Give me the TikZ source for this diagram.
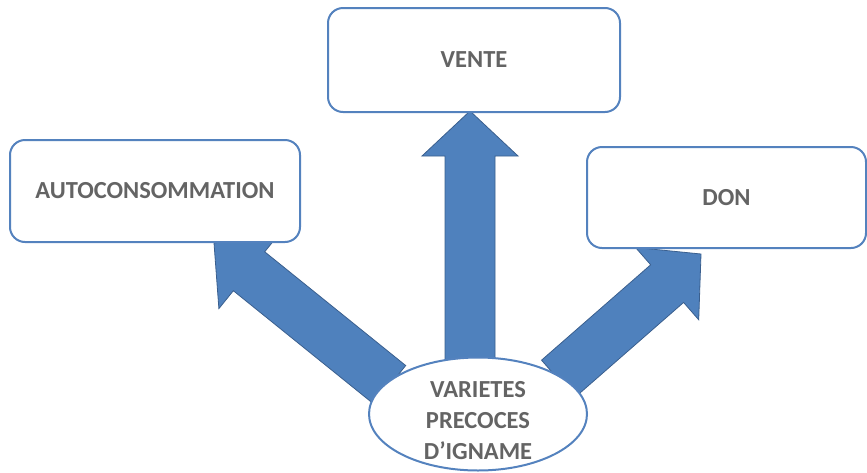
\documentclass[tikz,border=0pt]{standalone}
\usepackage{fontspec}
\setmainfont{Carlito}
\usetikzlibrary{calc,shapes.geometric}
\pgfdeclarelayer{background}
\pgfsetlayers{background,main}
\definecolor{boxline}{RGB}{84,130,190}
\definecolor{arrowfill}{RGB}{79,129,189}
\definecolor{arrowline}{RGB}{58,95,142}
\definecolor{txt}{RGB}{100,100,100}
\tikzset{
  labelfont/.style={font=\fontsize{24.5}{31}\selectfont\bfseries, text=txt},
  outbox/.style={draw=boxline, line width=2pt, fill=white, rounded corners=15pt, inner sep=0pt, labelfont},
  srcell/.style={ellipse, draw=boxline, line width=2pt, fill=white, minimum width=218pt, minimum height=113pt, inner sep=0pt},
  srctext/.style={align=center, inner sep=0pt, labelfont},
  blockarrow/.style={fill=arrowfill, draw=arrowline, line width=0.8pt, line join=miter}
}
\newcommand\blockarr[3]{% #1 tail, #2 tip, #3 head-base name
  \coordinate (#3) at ($(#2)!45pt!(#1)$);
  \draw[blockarrow] ($(#1)!25pt!90:(#2)$) -- ($(#3)!25pt!90:(#2)$) -- ($(#3)!48pt!90:(#2)$) -- (#2)
    -- ($(#3)!48pt!-90:(#2)$) -- ($(#3)!25pt!-90:(#2)$) -- ($(#1)!25pt!-90:(#2)$) -- cycle;
}
\begin{document}
\begin{tikzpicture}[x=1pt,y=-1pt]
  \useasboundingbox (0,0) rectangle (867,472);
  % target boxes
  \node[outbox, minimum width=290pt, minimum height=102pt] (auto) at (155,191) {AUTOCONSOMMATION};
  \node[outbox, minimum width=292pt, minimum height=104pt] (vente) at (474,60) {VENTE};
  \node[outbox, minimum width=279pt, minimum height=101pt] (don) at (726.5,197.5) {DON};
  % source ellipse
  \node[srcell] (src) at (478,414) {};
  \node[srctext] (srclbl) at (478,421) {VARIETES\\PRECOCES\\D’IGNAME};
  % arrow ends
  \coordinate (tailL) at (390,385);
  \coordinate (tipL) at (214,243);
  \coordinate (tailV) at (470,364);
  \coordinate (tipV) at (470,111);
  \coordinate (tailR) at (558,379);
  \coordinate (tipR) at (701,254);
  \begin{pgfonlayer}{background}
    \blockarr{tailL}{tipL}{headL}
    \blockarr{tailV}{tipV}{headV}
    \blockarr{tailR}{tipR}{headR}
  \end{pgfonlayer}
\end{tikzpicture}
\end{document}
